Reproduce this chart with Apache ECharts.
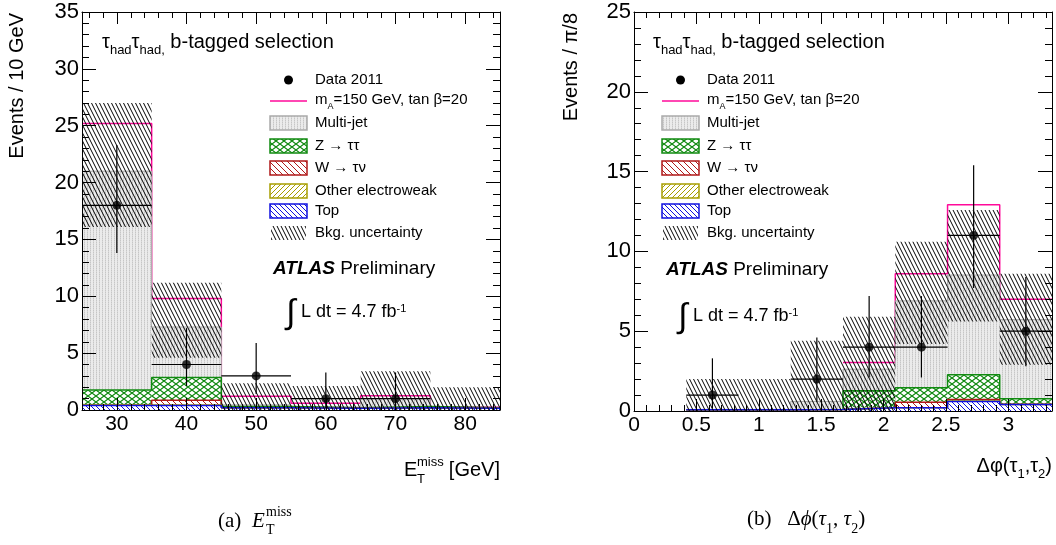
<!DOCTYPE html>
<html>
<head>
<meta charset="utf-8">
<script src="https://cdn.jsdelivr.net/npm/echarts@6/dist/echarts.min.js"></script>
<style>
html, body { margin: 0; padding: 0; background: #fff; }
#chart { width: 1056px; height: 545px; }
</style>
</head>
<body>
<div id="chart"></div>
<script>
// ---- (a) E_T^miss, 10 GeV bins ----
var metEdges = [25, 35, 45, 55, 65, 75, 85];
var metTop = [0.40, 0.40, 0.20, 0.15, 0.20, 0.15];
var metOtherEW = [0.05, 0.05, 0.00, 0.00, 0.00, 0.00];
var metWtaunu = [0.00, 0.40, 0.00, 0.00, 0.00, 0.00];
var metZtautau = [1.30, 2.00, 0.10, 0.05, 0.10, 0.05];
var metMultijet = [19.25, 4.45, 0.15, 0.05, 0.70, 0.00];
var metSignal = [4.20, 2.50, 0.75, 0.35, 0.25, 0.05];
var metBandLo = [16.1, 4.6, 0, 0, 0, 0];
var metBandHi = [27.0, 11.2, 2.35, 2.1, 3.4, 2.0];
var metData = [18, 4, 3, 1, 1, 0];
var metErrLo = [13.8, 2.1, 1.4, 0.17, 0.17, 0];
var metErrHi = [23.3, 7.2, 5.9, 3.3, 3.3, 0];
var metMajorTicks = [30, 40, 50, 60, 70, 80];
var metMinorTicks = [26, 28, 32, 34, 36, 38, 42, 44, 46, 48, 52, 54, 56, 58, 62, 64, 66, 68, 72, 74, 76, 78, 82, 84];

// ---- (b) delta phi(tau1, tau2) ----
var dphiEdges = [0, 0.419, 0.838, 1.256, 1.675, 2.094, 2.513, 2.931, 3.35];
var dphiTop = [0, 0.08, 0.08, 0.10, 0.20, 0.20, 0.60, 0.40];
var dphiOtherEW = [0, 0, 0, 0, 0, 0, 0.02, 0];
var dphiWtaunu = [0, 0, 0, 0, 0.02, 0.35, 0.10, 0.02];
var dphiZtautau = [0, 0, 0, 0, 1.05, 0.90, 1.55, 0.35];
var dphiMultijet = [0, 0.02, 0.02, 0.50, 1.35, 5.45, 6.25, 4.95];
var dphiSignal = [0, 0, 0, 0, 0.42, 1.70, 4.40, 1.28];
var dphiBandLo = [0, 0, 0, 0, 0, 4.2, 5.6, 2.9];
var dphiBandHi = [0, 2.0, 2.0, 4.4, 5.9, 10.6, 12.6, 8.6];
var dphiData = [0, 1, 0, 2, 4, 4, 11, 5];
var dphiErrLo = [0, 0.17, 0, 0.58, 2.1, 2.1, 7.7, 2.8];
var dphiErrHi = [0, 3.3, 0, 4.6, 7.2, 7.2, 15.4, 8.4];
var dphiMajorTicks = [0, 0.5, 1, 1.5, 2, 2.5, 3];
var dphiMinorTicks = [0.1, 0.2, 0.3, 0.4, 0.6, 0.7, 0.8, 0.9, 1.1, 1.2, 1.3, 1.4, 1.6, 1.7, 1.8, 1.9,
  2.1, 2.2, 2.3, 2.4, 2.6, 2.7, 2.8, 2.9, 3.1, 3.2, 3.3];

var legendLabels = ['Data 2011', 'm_A=150 GeV, tan β=20', 'Multi-jet', 'Z → ττ', 'W → τν', 'Other electroweak', 'Top', 'Bkg. uncertainty'];

var FONT = 'Liberation Sans';
var SERIF = 'Liberation Serif';
var SIG = '#ff0a9a';
var MJ_LINE = '#aaaaaa', Z_COL = '#118a11', W_COL = '#b01818', EW_COL = '#a89e00', TOP_COL = '#1010e0';

// fill patterns, drawn on small canvases
function hatch(color, dir, w, h, bg, lw) {
  var c = document.createElement('canvas');
  c.width = w; c.height = h;
  var ctx = c.getContext('2d');
  if (bg) { ctx.fillStyle = bg; ctx.fillRect(0, 0, w, h); }
  ctx.strokeStyle = color;
  ctx.lineWidth = lw || 1;
  for (var k = -1; k <= 1; k++) {
    ctx.beginPath();
    if (dir === '\\' || dir === 'x') { ctx.moveTo(k * w, 0); ctx.lineTo(k * w + w, h); }
    if (dir === '/' || dir === 'x') { ctx.moveTo(k * w, h); ctx.lineTo(k * w + w, 0); }
    ctx.stroke();
  }
  return { image: c, repeat: 'repeat' };
}
function greyDots() {
  var c = document.createElement('canvas');
  c.width = 3; c.height = 2;
  var ctx = c.getContext('2d');
  ctx.fillStyle = '#ebebeb'; ctx.fillRect(0, 0, 3, 2);
  ctx.fillStyle = '#c6c6c6'; ctx.fillRect(0, 0, 1, 1);
  ctx.fillStyle = '#d8d8d8'; ctx.fillRect(0, 1, 1, 1);
  return { image: c, repeat: 'repeat' };
}
var patMJ = greyDots();
var patZ = hatch(Z_COL, 'x', 8, 6, '#fff', 1.2);
var patW = hatch(W_COL, '\\', 6, 6, '#fff', 1);
var patEW = hatch(EW_COL, '/', 5, 5, '#fff', 1);
var patTop = hatch(TOP_COL, '\\', 5, 5, '#fff', 1);
var patBand = hatch('#000', '\\', 4, 8, null, 1);

function cumulate(parts) {
  var acc = parts[0].map(function () { return 0; });
  return parts.map(function (p) {
    var lo = acc.slice();
    acc = acc.map(function (a, i) { return a + p[i]; });
    return { lo: lo, hi: acc.slice() };
  });
}
// histogram outline; leading bins where own contribution is empty are left out
function stepData(edges, tops, own) {
  var d = [], started = false;
  for (var i = 0; i < tops.length; i++) {
    if (!started && own[i] <= 0) continue;
    started = true;
    d.push([edges[i], tops[i]]);
    d.push([edges[i + 1], tops[i]]);
  }
  return d;
}
function boxData(edges, lo, hi) {
  return lo.map(function (v, i) { return [edges[i], edges[i + 1], v, hi[i]]; });
}
function boxSeries(axis, data, fill, z) {
  return {
    type: 'custom', xAxisIndex: axis, yAxisIndex: axis, z: z, clip: true, silent: true,
    encode: { x: [0, 1], y: [2, 3] },
    renderItem: function (params, api) {
      var p0 = api.coord([api.value(0), api.value(3)]);
      var p1 = api.coord([api.value(1), api.value(2)]);
      return {
        type: 'rect',
        shape: { x: p0[0], y: p0[1], width: p1[0] - p0[0], height: p1[1] - p0[1] },
        style: { fill: fill }
      };
    },
    data: data
  };
}
function stepSeries(axis, data, color, width, z) {
  return {
    type: 'line', xAxisIndex: axis, yAxisIndex: axis, z: z, silent: true,
    symbol: 'none', lineStyle: { color: color, width: width }, data: data
  };
}
function errorSeries(axis, edges, vals, lo, hi) {
  var d = [], pts = [];
  vals.forEach(function (v, i) {
    if (v <= 0) return;
    var xc = (edges[i] + edges[i + 1]) / 2;
    d.push([xc, v, edges[i], edges[i + 1], lo[i], hi[i]]);
    pts.push([xc, v]);
  });
  return [{
    type: 'custom', xAxisIndex: axis, yAxisIndex: axis, z: 6, silent: true,
    encode: { x: [0, 2, 3], y: [1, 4, 5] },
    renderItem: function (params, api) {
      var a = api.coord([api.value(2), api.value(1)]);
      var b = api.coord([api.value(3), api.value(1)]);
      var c = api.coord([api.value(0), api.value(4)]);
      var e = api.coord([api.value(0), api.value(5)]);
      return {
        type: 'group', children: [
          { type: 'line', shape: { x1: a[0], y1: a[1], x2: b[0], y2: b[1] }, style: { stroke: '#000', lineWidth: 1.2 } },
          { type: 'line', shape: { x1: c[0], y1: c[1], x2: e[0], y2: e[1] }, style: { stroke: '#000', lineWidth: 1.2 } }
        ]
      };
    },
    data: d
  }, {
    type: 'scatter', xAxisIndex: axis, yAxisIndex: axis, z: 7, silent: true,
    symbol: 'circle', symbolSize: 9, itemStyle: { color: '#000' }, data: pts
  }];
}
function histSeries(axis, edges, top, ew, w, z, mj, sig, bandLo, bandHi) {
  var parts = [top, ew, w, z, mj];
  var cum = cumulate(parts);
  var fills = [patTop, patEW, patW, patZ, patMJ];
  var lines = [TOP_COL, EW_COL, W_COL, Z_COL, MJ_LINE];
  var total = cum[4].hi;
  var s = [];
  // signal stacked on top of background, drawn underneath the stack
  s.push(stepSeries(axis, stepData(edges, total.map(function (t, i) { return t + sig[i]; }), sig), SIG, 1.5, 1));
  cum.forEach(function (c, k) { s.push(boxSeries(axis, boxData(edges, c.lo, c.hi), fills[k], 2)); });
  for (var k = 4; k >= 0; k--) {
    s.push(stepSeries(axis, stepData(edges, cum[k].hi, cum[k].hi), lines[k], k === 4 ? 1 : 1.5, 3));
  }
  s.push(boxSeries(axis, boxData(edges, bandLo, bandHi), patBand, 4));
  return s;
}

function xAx(grid, pos, min, max, ticks, len, labels, line) {
  return {
    type: 'value', gridIndex: grid, position: pos, min: min, max: max, z: 10,
    axisLine: { show: line, onZero: false, lineStyle: { color: '#000', width: 1 } },
    axisTick: { show: true, inside: true, length: len, customValues: ticks, lineStyle: { color: '#000', width: 1 } },
    axisLabel: labels ? { show: true, customValues: ticks, margin: 4, fontFamily: FONT, fontSize: 21, color: '#000' } : { show: false },
    splitLine: { show: false }
  };
}
function yAx(grid, pos, max, labels) {
  return {
    type: 'value', gridIndex: grid, position: pos, min: 0, max: max, interval: 5, z: 10,
    axisLine: { show: true, onZero: false, lineStyle: { color: '#000', width: 1 } },
    axisTick: { show: true, inside: true, length: 14, lineStyle: { color: '#000', width: 1 } },
    minorTick: { show: true, splitNumber: 5, length: 7, lineStyle: { color: '#000', width: 1 } },
    axisLabel: labels ? { show: true, margin: 3, fontFamily: FONT, fontSize: 22, color: '#000' } : { show: false },
    splitLine: { show: false }, minorSplitLine: { show: false }
  };
}
function hiddenY(grid, max) {
  return { type: 'value', gridIndex: grid, min: 0, max: max, show: false };
}

// ---- text helpers ----
function txt(x, y, text, style, extra) {
  var el = {
    type: 'text', x: x, y: y, z: 100, silent: true,
    style: Object.assign({ text: text, fontFamily: FONT, fontSize: 15, fill: '#000', textVerticalAlign: 'middle' }, style || {})
  };
  return Object.assign(el, extra || {});
}
function subRich(main, sub, pad) {
  return {
    m: { fontFamily: FONT, fontSize: main, lineHeight: main + 3, verticalAlign: 'top' },
    s: { fontFamily: FONT, fontSize: sub, lineHeight: sub, padding: [pad, 0, 0, 0], verticalAlign: 'top' }
  };
}
function legend(x0, tx) {
  var rows = [80, 101, 123, 146, 168, 191, 211, 233];
  var fills = [patMJ, patZ, patW, patEW, patTop];
  var strokes = [MJ_LINE, Z_COL, W_COL, EW_COL, TOP_COL];
  var els = [];
  els.push({ type: 'circle', z: 100, silent: true, shape: { cx: x0 + 18.5, cy: rows[0], r: 4.5 }, style: { fill: '#000' } });
  els.push({ type: 'line', z: 100, silent: true, shape: { x1: x0, y1: rows[1], x2: x0 + 37, y2: rows[1] }, style: { stroke: SIG, lineWidth: 1.5 } });
  for (var k = 0; k < 5; k++) {
    els.push({ type: 'rect', z: 100, silent: true, shape: { x: x0, y: rows[k + 2] - 7, width: 37, height: 14 },
      style: { fill: fills[k], stroke: strokes[k], lineWidth: 1.5 } });
  }
  els.push({ type: 'rect', z: 100, silent: true, shape: { x: x0 + 1, y: rows[7] - 7, width: 35, height: 14 }, style: { fill: patBand } });
  legendLabels.forEach(function (lab, i) {
    if (i === 1) {
      els.push(txt(tx, rows[i] - 9, '{m|m}{s|A}{m|=150 GeV, tan β=20}', { rich: subRich(15, 9, 10), textVerticalAlign: 'top' }));
    } else {
      els.push(txt(tx, rows[i], lab));
    }
  });
  return els;
}
function annotations(x0, atlasX, atlasY, intX, intY) {
  var els = [];
  els.push(txt(x0, 32, '{m|τ}{s|had}{m|τ}{s|had,}{m| b-tagged selection}', { rich: subRich(20, 13, 12), textVerticalAlign: 'top' }));
  els.push(txt(atlasX, atlasY, '{b|ATLAS} {n|Preliminary}', {
    fontSize: 19,
    rich: { b: { fontFamily: FONT, fontSize: 19, fontWeight: 'bold', fontStyle: 'italic' }, n: { fontFamily: FONT, fontSize: 19 } }
  }));
  els.push(txt(intX, intY, '∫', { fontSize: 34, textAlign: 'center' }));
  els.push(txt(intX + 10, intY - 11, '{m|L dt = 4.7 fb}{u|-1}', {
    textVerticalAlign: 'top',
    rich: { m: { fontFamily: FONT, fontSize: 18, lineHeight: 22, verticalAlign: 'top' }, u: { fontFamily: FONT, fontSize: 11, lineHeight: 11, verticalAlign: 'top' } }
  }));
  return els;
}

var graphics = [].concat(
  legend(270, 315), legend(662, 707),
  annotations(102, 273, 269, 291, 314),
  annotations(653, 666, 270, 683, 318),
  [
    txt(17.5, 13, 'Events / 10 GeV', { fontSize: 20, textAlign: 'right' }, { rotation: Math.PI / 2 }),
    txt(571, 13, 'Events / π/8', { fontSize: 20, textAlign: 'right' }, { rotation: Math.PI / 2 }),
    txt(404, 470, 'E', { fontSize: 20 }),
    txt(417, 462, 'miss', { fontSize: 13 }),
    txt(417, 479, 'T', { fontSize: 13 }),
    txt(500, 470, '[GeV]', { fontSize: 20, textAlign: 'right' }),
    txt(1052, 456, '{m|Δφ(τ}{s|1}{m|,τ}{s|2}{m|)}', { rich: subRich(20, 13, 12), textAlign: 'right', textVerticalAlign: 'top' }),
    txt(218, 521, '(a)', { fontFamily: SERIF, fontSize: 21 }),
    txt(252, 521, 'E', { fontFamily: SERIF, fontSize: 21, fontStyle: 'italic' }),
    txt(266, 512, 'miss', { fontFamily: SERIF, fontSize: 14 }),
    txt(266, 530, 'T', { fontFamily: SERIF, fontSize: 14 }),
    txt(747, 509, '{n|(b)   Δ}{i|ϕ}{n|(}{i|τ}{s|1}{n|, }{i|τ}{s|2}{n|)}', {
      textVerticalAlign: 'top',
      rich: {
        n: { fontFamily: SERIF, fontSize: 21, lineHeight: 24, verticalAlign: 'top' },
        i: { fontFamily: SERIF, fontSize: 21, lineHeight: 24, fontStyle: 'italic', verticalAlign: 'top' },
        s: { fontFamily: SERIF, fontSize: 14, lineHeight: 14, padding: [13, 0, 0, 0], verticalAlign: 'top' }
      }
    })
  ]
);

var chart = echarts.init(document.getElementById('chart'));
var option = {
  animation: false,
  backgroundColor: '#fff',
  grid: [
    { left: 82, top: 12, width: 418, height: 398 },
    { left: 634, top: 12, width: 418, height: 399 },
    { left: 82, top: 12, width: 418, height: 398 },
    { left: 634, top: 12, width: 418, height: 399 }
  ],
  xAxis: [
    xAx(0, 'bottom', 25, 85, metMajorTicks, 12, true, true),
    xAx(0, 'top', 25, 85, metMajorTicks, 12, false, true),
    xAx(1, 'bottom', 0, 3.35, dphiMajorTicks, 12, true, true),
    xAx(1, 'top', 0, 3.35, dphiMajorTicks, 12, false, true),
    xAx(2, 'bottom', 25, 85, metMinorTicks, 6, false, false),
    xAx(2, 'top', 25, 85, metMinorTicks, 6, false, false),
    xAx(3, 'bottom', 0, 3.35, dphiMinorTicks, 6, false, false),
    xAx(3, 'top', 0, 3.35, dphiMinorTicks, 6, false, false)
  ],
  yAxis: [
    yAx(0, 'left', 35, true),
    yAx(0, 'right', 35, false),
    yAx(1, 'left', 25, true),
    yAx(1, 'right', 25, false),
    hiddenY(2, 35),
    hiddenY(3, 25)
  ],
  series: [].concat(
    histSeries(0, metEdges, metTop, metOtherEW, metWtaunu, metZtautau, metMultijet, metSignal, metBandLo, metBandHi),
    errorSeries(0, metEdges, metData, metErrLo, metErrHi),
    histSeries(2, dphiEdges, dphiTop, dphiOtherEW, dphiWtaunu, dphiZtautau, dphiMultijet, dphiSignal, dphiBandLo, dphiBandHi),
    errorSeries(2, dphiEdges, dphiData, dphiErrLo, dphiErrHi)
  ),
  graphic: graphics
};
chart.setOption(option);
</script>
</body>
</html>
